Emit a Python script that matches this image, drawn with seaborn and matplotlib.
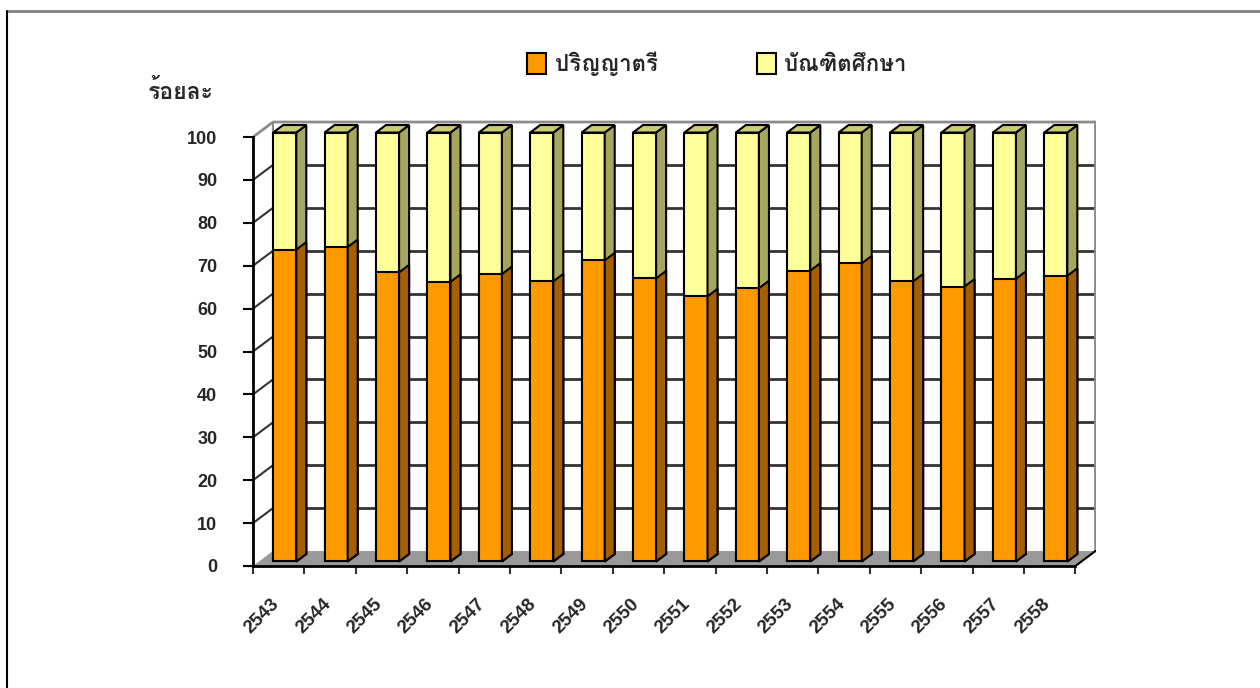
import numpy as np
import pandas as pd
import matplotlib
matplotlib.use('Agg')
import matplotlib.pyplot as plt
import matplotlib.transforms as mtrans
from matplotlib import font_manager, ft2font
from matplotlib.patches import Polygon, Patch
from matplotlib.lines import Line2D
import seaborn as sns

# ── Data ──────────────────────────────────────────────────────────────────────
years    = ['2543', '2544', '2545', '2546', '2547', '2548', '2549', '2550',
            '2551', '2552', '2553', '2554', '2555', '2556', '2557', '2558']
bachelor = [72.7, 73.3, 67.4, 65.2, 67.0, 65.3, 70.2, 66.0,
            61.8, 63.7, 67.8, 69.5, 65.3, 64.1, 65.9, 66.6]
graduate = [27.3, 26.7, 32.6, 34.8, 33.0, 34.7, 29.8, 34.0,
            38.2, 36.3, 32.2, 30.5, 34.7, 35.9, 34.1, 33.4]
yticks   = list(range(0, 101, 10))

LBL_BACH = 'ปริญญาตรี'
LBL_GRAD = 'บัณฑิตศึกษา'
Y_LABEL  = 'ร้อยละ'

df = pd.DataFrame({'year': years, 'bachelor': bachelor, 'graduate': graduate})
df['total'] = df['bachelor'] + df['graduate']

# ── Colours ───────────────────────────────────────────────────────────────────
ORANGE, ORANGE_SIDE = '#FF9900', '#A35F00'
YELLOW, YELLOW_SIDE, YELLOW_TOP = '#FFFF99', '#A6A65E', '#CBCB70'
FLOOR = '#999999'

# ── Fonts: find something that can draw Thai ─────────────────────────────────
def find_thai_font():
    found = []
    for f in font_manager.fontManager.ttflist:
        try:
            if 0x0E1B in ft2font.FT2Font(f.fname).get_charmap():
                found.append(f)
        except Exception:
            pass
    found.sort(key=lambda f: (f.weight not in ('bold', 700), f.style != 'normal'))
    return found[0].name if found else None

sns.set_style('white')
thai = find_thai_font()
TEXT_FAMILY = ([thai] if thai else []) + ['Liberation Sans', 'DejaVu Sans']
plt.rcParams['font.family'] = ['Liberation Sans', 'DejaVu Sans']

# ── 3D geometry (data units) ──────────────────────────────────────────────────
DX, DY = 0.39, 3.5          # full depth of the plot box
BAR_OFF = 0.3               # where the bar front sits inside the depth
BAR_DEPTH = 0.5             # bar depth as a fraction of the box depth

fig = plt.figure(figsize=(12.6, 6.88), dpi=100)
ax = fig.add_axes([253 / 1260, 122 / 688, 842.5 / 1260, 454.7 / 688])
ax.patch.set_alpha(0)

# ── Bars (front faces via seaborn) ────────────────────────────────────────────
sns.barplot(data=df, x='year', y='total', color=YELLOW, saturation=1,
            width=0.45, edgecolor='black', linewidth=1.5, errorbar=None, ax=ax)
n = len(ax.patches)
sns.barplot(data=df, x='year', y='bachelor', color=ORANGE, saturation=1,
            width=0.45, edgecolor='black', linewidth=1.5, errorbar=None, ax=ax)
yellow_bars = ax.patches[:n]
orange_bars = ax.patches[n:]

ox, oy = BAR_OFF * DX, BAR_OFF * DY
bx, by = BAR_DEPTH * DX, BAR_DEPTH * DY

def extrude(p, side_col, top_col, z):
    p.set_x(p.get_x() + ox)
    p.set_y(p.get_y() + oy)
    p.set_zorder(z)
    x0, y0 = p.get_x(), p.get_y()
    x1, y1 = x0 + p.get_width(), y0 + p.get_height()
    side = Polygon([(x1, y0), (x1 + bx, y0 + by), (x1 + bx, y1 + by), (x1, y1)],
                   closed=True, fc=side_col, ec='black', lw=1.5, zorder=z)
    ax.add_patch(side)
    if top_col:
        top = Polygon([(x0, y1), (x0 + bx, y1 + by), (x1 + bx, y1 + by), (x1, y1)],
                      closed=True, fc=top_col, ec='black', lw=1.5, zorder=z)
        ax.add_patch(top)

for p in yellow_bars:
    extrude(p, YELLOW_SIDE, YELLOW_TOP, 3)
for p in orange_bars:
    extrude(p, ORANGE_SIDE, None, 4)

# ── Walls, floor, gridlines ───────────────────────────────────────────────────
xl, xr = -0.5, len(years) - 0.5
floor = Polygon([(xl, 0), (xr, 0), (xr + DX, DY), (xl + DX, DY)], closed=True,
                fc=FLOOR, ec='none', zorder=1)
ax.add_patch(floor)
ax.plot([xr, xr + DX], [0, DY], color='black', lw=1.5, zorder=1.5)
for v in yticks[1:-1]:
    ax.plot([xl + DX, xr + DX], [v + DY, v + DY], color='#333333', lw=2, zorder=1)
    ax.plot([xl, xl + DX], [v, v + DY], color='#333333', lw=1.5, zorder=1)
top = yticks[-1]
ax.plot([xl, xl + DX, xr + DX, xr + DX], [top, top + DY, top + DY, DY],
        color='#8c8c8c', lw=2, zorder=1)
ax.plot([xl + DX, xl + DX], [DY, top + DY], color='#8c8c8c', lw=1.5, zorder=1)

# ── Axes styling ──────────────────────────────────────────────────────────────
ax.set_xlim(xl, xr + DX)
ax.set_ylim(0, 106)
for s in ('top', 'right'):
    ax.spines[s].set_visible(False)
ax.spines['left'].set_bounds(0, 100)
ax.spines['bottom'].set_bounds(xl, xr)
for s in ('left', 'bottom'):
    ax.spines[s].set_linewidth(2)
    ax.spines[s].set_color('black')
    ax.spines[s].set_zorder(5)

ax.set_yticks(yticks)
ax.set_yticklabels([str(v) for v in yticks])
ax.tick_params(axis='y', direction='out', length=7.2, width=1.5, color='black',
               pad=18.5, left=True, labelsize=13)

ax.set_xticks(range(len(years)))
ax.set_xticks(np.arange(xl, xr + 1), minor=True)
ax.set_xticklabels(years, rotation=45, ha='right', va='top')
ax.tick_params(axis='x', which='major', length=0, pad=21, labelsize=13.5)
ax.tick_params(axis='x', which='minor', direction='out', length=5.5, width=1.5,
               color='#333333', bottom=True)
shift = mtrans.ScaledTranslation(4 / 100, 0, fig.dpi_scale_trans)
for lab in ax.get_xticklabels():
    lab.set_transform(lab.get_transform() + shift)
for lab in ax.get_xticklabels() + ax.get_yticklabels():
    lab.set_fontweight('bold')
ax.set_xlabel('')
ax.set_ylabel('')

# ── Titles / legend ──────────────────────────────────────────────────────────
fig.text(148 / 1260, 1 - 91 / 688, Y_LABEL, ha='left', va='center',
         fontsize=16.5, fontweight='bold', family=TEXT_FAMILY)

handles = [Patch(fc=ORANGE, ec='black', lw=1.5),
           Patch(fc=YELLOW, ec='black', lw=1.5)]
fig.legend(handles, [LBL_BACH, LBL_GRAD], loc='center left',
           bbox_to_anchor=(527 / 1260, 1 - 64 / 688), ncol=2, frameon=False,
           borderpad=0, borderaxespad=0, handlelength=0.85, handleheight=1.1,
           handletextpad=0.4, columnspacing=4.45,
           prop={'family': TEXT_FAMILY, 'weight': 'bold', 'size': 16})

# outer frame of the original picture
fig.add_artist(Line2D([7 / 1260, 1], [1 - 10.5 / 688] * 2, color='#808080', lw=2))
fig.add_artist(Line2D([7 / 1260] * 2, [0, 1 - 10.5 / 688], color='black', lw=1.5))

fig.savefig('out.png', dpi=100)
